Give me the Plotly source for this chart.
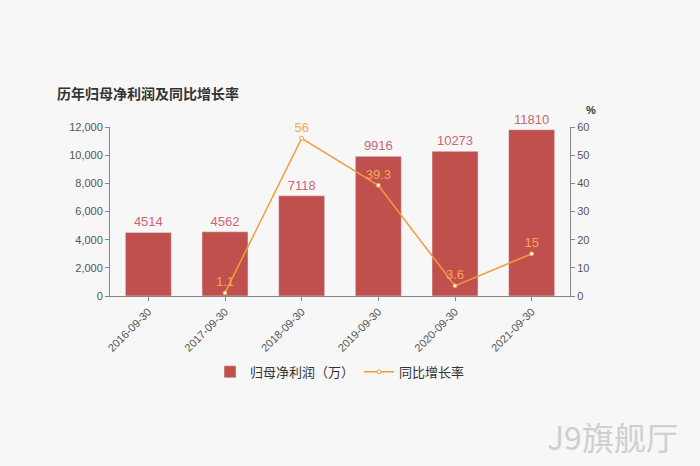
import plotly.graph_objects as go

dates = ["2016-09-30", "2017-09-30", "2018-09-30", "2019-09-30", "2020-09-30", "2021-09-30"]
profit = [4514, 4562, 7118, 9916, 10273, 11810]
growth_dates = ["2017-09-30", "2018-09-30", "2019-09-30", "2020-09-30", "2021-09-30"]
growth = [1.1, 56, 39.3, 3.6, 15]

BAR = "#c0504d"
LINE = "#f39a3e"
BG = "#f7f7f7"
FONT = "Liberation Sans, Noto Sans CJK SC"

fig = go.Figure()
fig.add_trace(
    go.Bar(
        x=dates,
        y=profit,
        name="归母净利润（万）",
        marker={"color": BAR},
        text=[str(v) for v in profit],
        textposition="outside",
        textfont={"color": "#cc6670", "size": 13},
        cliponaxis=False,
    )
)
fig.add_trace(
    go.Scatter(
        x=growth_dates,
        y=growth,
        name="同比增长率",
        yaxis="y2",
        mode="lines+markers+text",
        line={"color": LINE, "width": 1.5},
        marker={"size": 4, "color": "white", "line": {"color": LINE, "width": 1}},
        text=[f"{v:g}" for v in growth],
        textposition="top center",
        textfont={"color": "#f5a75a", "size": 13},
        cliponaxis=False,
    )
)

fig.update_layout(
    width=700,
    height=466,
    paper_bgcolor=BG,
    plot_bgcolor=BG,
    font={"family": FONT, "color": "#666"},
    margin={"l": 110, "r": 130, "t": 127, "b": 170},
    bargap=0.4,
    showlegend=True,
    legend={
        "orientation": "h",
        "x": 0.5,
        "xanchor": "center",
        "y": -0.36,
        "yanchor": "top",
        "font": {"size": 13, "color": "#333", "family": "Noto Sans CJK SC"},
    },
    xaxis={
        "type": "category",
        "tickangle": -45,
        "tickfont": {"size": 11, "color": "#555"},
        "showline": True,
        "linecolor": "#888",
        "ticks": "outside",
        "ticklen": 4,
        "tickcolor": "#888",
        "showgrid": False,
    },
    yaxis={
        "range": [0, 12000],
        "dtick": 2000,
        "tickformat": ",",
        "showgrid": False,
        "showline": True,
        "linecolor": "#888",
        "ticks": "outside",
        "ticklen": 4,
        "tickcolor": "#888",
        "tickfont": {"size": 11, "color": "#555"},
        "zeroline": False,
    },
    yaxis2={
        "range": [0, 60],
        "dtick": 10,
        "overlaying": "y",
        "side": "right",
        "showgrid": False,
        "showline": True,
        "linecolor": "#888",
        "ticks": "outside",
        "ticklen": 4,
        "tickcolor": "#888",
        "tickfont": {"size": 11, "color": "#555"},
        "zeroline": False,
    },
    annotations=[
        {
            "text": "<b>历年归母净利润及同比增长率</b>",
            "xref": "paper",
            "yref": "paper",
            "x": -0.12,
            "y": 1.2,
            "xanchor": "left",
            "yanchor": "middle",
            "showarrow": False,
            "font": {"size": 14, "color": "#333", "family": "Noto Sans CJK SC"},
        },
        {
            "text": "<b>%</b>",
            "xref": "paper",
            "yref": "paper",
            "x": 1.045,
            "y": 1.1,
            "xanchor": "center",
            "yanchor": "middle",
            "showarrow": False,
            "font": {"size": 11, "color": "#333"},
        },
        {
            "text": "J9旗舰厅",
            "xref": "paper",
            "yref": "paper",
            "x": 1.24,
            "y": -0.83,
            "xanchor": "right",
            "yanchor": "middle",
            "showarrow": False,
            "font": {"size": 32, "color": "#cfcfcf", "family": "Noto Sans CJK SC"},
        },
    ],
)

fig.write_html(
    "out.html",
    config={"displayModeBar": False},
    post_script="document.body.style.margin='0';",
)
